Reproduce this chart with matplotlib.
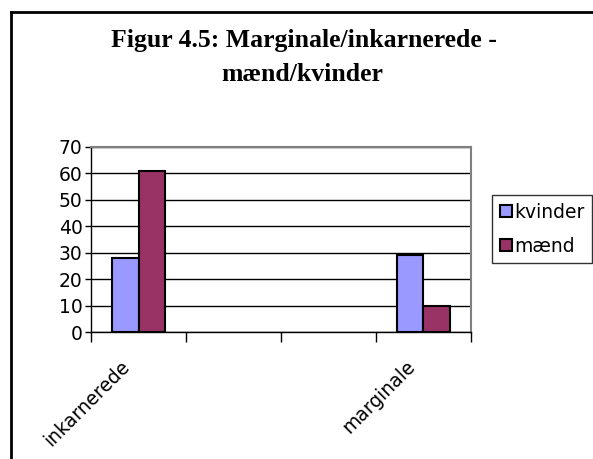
import numpy as np
import matplotlib
matplotlib.use("Agg")
import matplotlib.pyplot as plt
import matplotlib.transforms as mtransforms
from matplotlib.lines import Line2D
from matplotlib.patches import Patch

categories = ["inkarnerede", "", "", "marginale"]
kvinder = [28, np.nan, np.nan, 29]
maend = [61, np.nan, np.nan, 10]

plt.rcParams["font.family"] = ["DejaVu Sans"]

fig = plt.figure(figsize=(5.93, 4.59), dpi=100)
W, H = 593, 459
ax = fig.add_axes([91 / W, 1 - 332 / H, (471 - 91) / W, (332 - 147) / H])

x = np.arange(len(categories))
w = 0.28
ax.bar(x - w / 2, kvinder, w, color="#9999FF", edgecolor="black", linewidth=1.5, zorder=3)
ax.bar(x + w / 2, maend, w, color="#993366", edgecolor="black", linewidth=1.5, zorder=3)

ax.set_xlim(-0.5, len(categories) - 0.5)
ax.set_ylim(0, 70)
ax.set_yticks(range(0, 71, 10))
ax.yaxis.grid(True, color="black", linewidth=1)
ax.set_axisbelow(True)

# ticks on category boundaries, labels at centres
ax.set_xticks(np.arange(-0.5, len(categories), 1))
ax.set_xticklabels([])
ax.set_xticks(x, minor=True)
ax.set_xticklabels(categories, minor=True, rotation=45, ha="right", va="top",
                   rotation_mode="anchor", fontsize=13.5)
ax.tick_params(axis="x", which="minor", length=0, pad=18)
ax.tick_params(axis="x", which="major", length=7, width=1, direction="out")
ax.tick_params(axis="y", length=4, width=1, labelsize=13.5, pad=2)
shift = mtransforms.ScaledTranslation(-18 / 100, 0, fig.dpi_scale_trans)
for lab in ax.get_xticklabels(minor=True):
    lab.set_transform(lab.get_transform() + shift)

for s in ["top", "right"]:
    ax.spines[s].set_color("#808080")
    ax.spines[s].set_linewidth(1.5)
for s in ["left", "bottom"]:
    ax.spines[s].set_color("black")
    ax.spines[s].set_linewidth(1)

fig.text(304 / W, 1 - 47 / H, "Figur 4.5: Marginale/inkarnerede -", ha="center", va="baseline",
         fontsize=18.5, fontweight="bold", family="Liberation Serif")
fig.text(302 / W, 1 - 81 / H, "mænd/kvinder", ha="center", va="baseline",
         fontsize=18.5, fontweight="bold", family="Liberation Serif")

handles = [Patch(facecolor="#9999FF", edgecolor="black", linewidth=1.5),
           Patch(facecolor="#993366", edgecolor="black", linewidth=1.5)]
leg = fig.legend(handles, ["kvinder", "mænd"], loc="upper left",
                 bbox_to_anchor=(492 / W, 1 - 195 / H), fontsize=13.5,
                 frameon=True, fancybox=False, borderaxespad=0,
                 handlelength=0.65, handleheight=0.65, handletextpad=0.15,
                 borderpad=0.4, labelspacing=0.8)
leg.get_frame().set_edgecolor("black")
leg.get_frame().set_linewidth(1)

# outer chart border (top and left)
fig.add_artist(Line2D([11 / W, 1], [1 - 12 / H, 1 - 12 / H], transform=fig.transFigure,
                      color="black", linewidth=2))
fig.add_artist(Line2D([11 / W, 11 / W], [0, 1 - 12 / H], transform=fig.transFigure,
                      color="black", linewidth=2))

fig.savefig("out.png", dpi=100)
